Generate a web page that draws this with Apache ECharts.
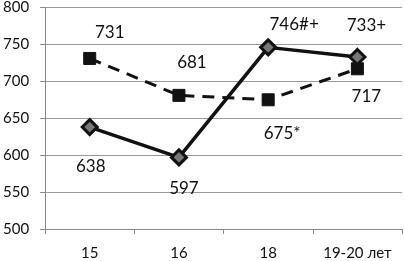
<!DOCTYPE html>
<html><head><meta charset="utf-8">
<script src="https://cdn.jsdelivr.net/npm/echarts@6/dist/echarts.min.js"></script>
<style>html,body{margin:0;padding:0;background:#fff}#c{width:404px;height:261px}</style>
</head><body><div id="c"></div>
<script>
var categories = ['15', '16', '18', '19-20 лет'];
var solidValues = [638, 597, 746, 733];
var solidLabels = ['638', '597', '746#+', '733+'];
var dashedValues = [731, 681, 675, 717];
var dashedLabels = ['731', '681', '675*', '717'];
var yTicks = [500, 550, 600, 650, 700, 750, 800];

// label offsets (style only)
var solidOffsets = [[1, 39], [5, 31], [26, -23], [9, -31]];
var dashedOffsets = [[20, -26], [13, -33], [14, 34], [9, 28]];

function items(vals, labels, offs) {
  return vals.map(function (v, i) {
    return { value: v, label: { formatter: labels[i], offset: offs[i] } };
  });
}
var font = 'Lato, "Open Sans", sans-serif';
var chart = echarts.init(document.getElementById('c'));
chart.setOption({
  animation: false,
  grid: { left: 45, right: 2, top: 7, bottom: 32 },
  xAxis: {
    type: 'category', data: categories, boundaryGap: true,
    axisLine: { lineStyle: { color: '#888', width: 1 } },
    axisTick: { show: true, length: 5, lineStyle: { color: '#888' } },
    axisLabel: { color: '#111', fontSize: 15, fontFamily: font, margin: 17 }
  },
  yAxis: {
    type: 'value', min: yTicks[0], max: yTicks[yTicks.length - 1], interval: 50,
    axisLine: { show: true, lineStyle: { color: '#888' } },
    axisTick: { show: true, length: 5, lineStyle: { color: '#888' } },
    splitLine: { lineStyle: { color: '#999', width: 1 } },
    axisLabel: { color: '#111', fontSize: 15, fontFamily: font, margin: 16 }
  },
  series: [
    {
      type: 'line', data: items(dashedValues, dashedLabels, dashedOffsets),
      symbol: 'rect', symbolSize: 12,
      lineStyle: { color: '#111', width: 3, type: [12, 8] },
      itemStyle: { color: '#111', borderColor: '#111', borderWidth: 1 },
      label: { show: true, position: 'inside', color: '#111', fontSize: 17, fontFamily: font }
    },
    {
      type: 'line', data: items(solidValues, solidLabels, solidOffsets),
      symbol: 'diamond', symbolSize: 15,
      lineStyle: { color: '#111', width: 3.5 },
      itemStyle: { color: '#777', borderColor: '#111', borderWidth: 3 },
      label: { show: true, position: 'inside', color: '#111', fontSize: 17, fontFamily: font }
    }
  ]
});
</script></body></html>
